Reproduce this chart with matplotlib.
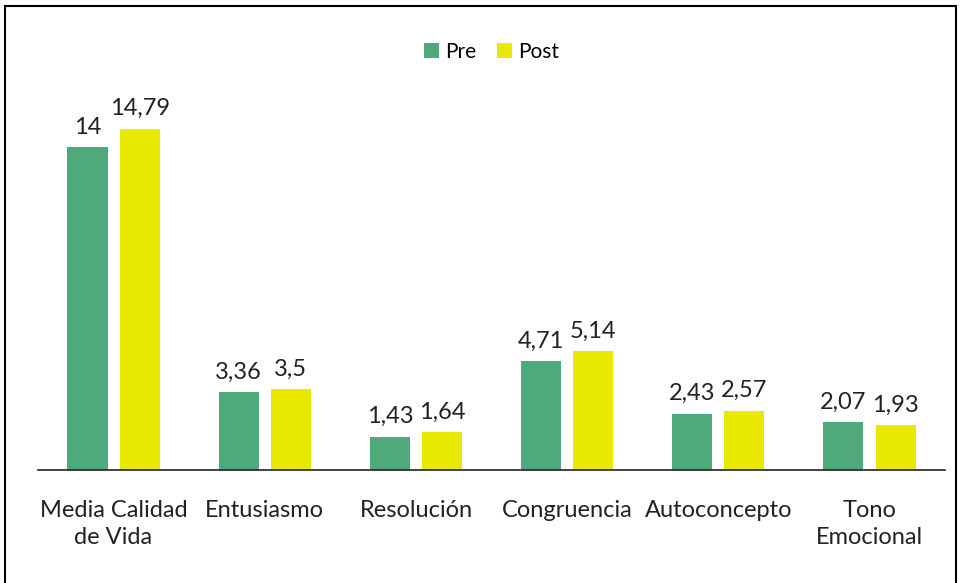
import numpy as np
import matplotlib.pyplot as plt
from matplotlib.patches import Rectangle

categories = ["Media Calidad\nde Vida", "Entusiasmo", "Resolución", "Congruencia", "Autoconcepto", "Tono\nEmocional"]
pre = [14, 3.36, 1.43, 4.71, 2.43, 2.07]
post = [14.79, 3.5, 1.64, 5.14, 2.57, 1.93]
series_names = ["Pre", "Post"]

green = "#4fa97a"
yellow = "#e8e800"

plt.rcParams['font.family'] = ['Lato', 'DejaVu Sans']

fig = plt.figure(figsize=(9.61, 5.83), dpi=100)
ax = fig.add_axes([0.0395, 0.194, 0.944, 0.755])

x = np.arange(len(categories))
w = 0.265
off = 0.1725
b1 = ax.bar(x - off, pre, w, color=green, label=series_names[0])
b2 = ax.bar(x + off, post, w, color=yellow, label=series_names[1])

def fmt(v):
    return f"{v:g}".replace(".", ",")

for bars, vals in ((b1, pre), (b2, post)):
    for r, v in zip(bars, vals):
        ax.annotate(fmt(v), (r.get_x() + r.get_width() / 2, v), xytext=(0, 7),
                    textcoords="offset points", ha="center", va="bottom",
                    fontsize=17, color="#222222")

ax.set_xlim(-0.5, len(categories) - 0.5)
ax.set_ylim(0, 19.1)
ax.set_xticks(x)
ax.set_xticklabels(categories, fontsize=17, color="#222222", linespacing=1.3)
ax.tick_params(axis="x", length=0, pad=22)
ax.set_yticks([])
for s in ("top", "right", "left"):
    ax.spines[s].set_visible(False)
ax.spines["bottom"].set_color("#222222")
ax.spines["bottom"].set_linewidth(1.2)

ax.legend(loc="upper center", bbox_to_anchor=(0.5, 1.015), ncol=2, frameon=False,
          fontsize=15, handlelength=0.7, handleheight=0.7, handletextpad=0.3,
          columnspacing=1.0)

fig.add_artist(Rectangle((0.005, -0.01), 0.99, 1.0, transform=fig.transFigure,
                         fill=False, edgecolor="black", linewidth=1.5))

fig.savefig("out.png", dpi=100)
